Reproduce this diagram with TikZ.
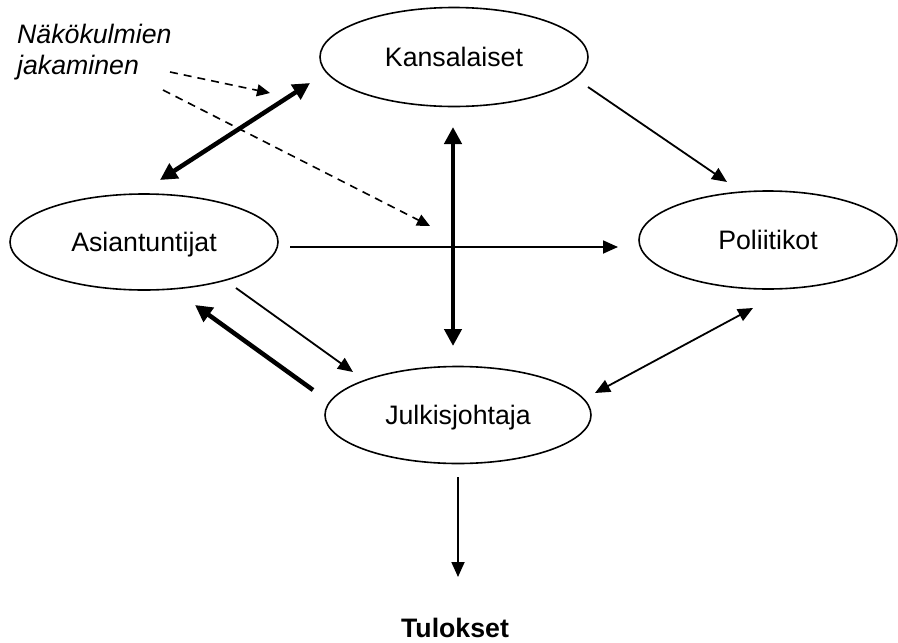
\documentclass[tikz,border=0pt]{standalone}
\usepackage{fontspec}
\setmainfont{Liberation Sans}
\usetikzlibrary{shapes.geometric,arrows.meta}
\begin{document}
\begin{tikzpicture}[x=1pt,y=-1pt,
  actor/.style={ellipse, draw, line width=1.6pt, inner sep=0pt,
    font=\fontsize{26.7}{32}\selectfont, text height=19pt, text depth=0pt},
  flow/.style={line width=1.8pt, -{Triangle[length=15pt,width=13pt]}},
  flowboth/.style={line width=1.8pt, {Triangle[length=15pt,width=13pt]}-{Triangle[length=15pt,width=13pt]}},
  strong/.style={line width=4.5pt, -{Triangle[length=17pt,width=17pt]}},
  strongboth/.style={line width=4.5pt, {Triangle[length=17pt,width=17pt]}-{Triangle[length=17pt,width=17pt]}},
  shared/.style={line width=1.6pt, dash pattern=on 8pt off 6pt, -{Triangle[length=13pt,width=12pt]}}
]
\useasboundingbox (0,0) rectangle (898,643);

% actors
\node[actor, minimum width=268pt, minimum height=99pt] (kan) at (454,57)  {Kansalaiset};
\node[actor, minimum width=268pt, minimum height=96pt] (asi) at (144,242) {Asiantuntijat};
\node[actor, minimum width=258pt, minimum height=98pt] (pol) at (768,240) {Poliitikot};
\node[actor, minimum width=266pt, minimum height=97pt] (jul) at (458,415) {Julkisjohtaja};

% labels
\node[anchor=north west, inner sep=0pt, align=left,
      font=\itshape\fontsize{26.7}{31}\selectfont] (nak) at (17,24) {Näkökulmien\\jakaminen};
\node[anchor=base, inner sep=0pt, font=\bfseries\fontsize{26.7}{32}\selectfont] (tul) at (455,637) {Tulokset};

% connections
\draw[flow] ([shift={(134,30)}]kan.center) -- ([shift={(-41,-58)}]pol.center);
\draw[flow] ([shift={(146,5)}]asi.center) -- ([shift={(-150,7)}]pol.center);
\draw[strongboth] ([shift={(-1,70)}]kan.center) -- ([shift={(-5,-69)}]jul.center);
\draw[strongboth] ([shift={(16,-62)}]asi.center) -- ([shift={(-144,26)}]kan.center);
\draw[shared] ([shift={(153,48)}]nak.north west) -- ([shift={(-184,36)}]kan.center);
\draw[shared] ([shift={(146,66)}]nak.north west) -- ([shift={(-24,169)}]kan.center);
\draw[flow] ([shift={(92,46)}]asi.center) -- ([shift={(-105,-43)}]jul.center);
\draw[strong] ([shift={(-145,-25)}]jul.center) -- ([shift={(51,63)}]asi.center);
\draw[flowboth] ([shift={(137,-22)}]jul.center) -- ([shift={(-15,68)}]pol.center);
\draw[flow] ([shift={(0,62)}]jul.center) -- ([shift={(3,-60)}]tul.base);
\end{tikzpicture}
\end{document}
